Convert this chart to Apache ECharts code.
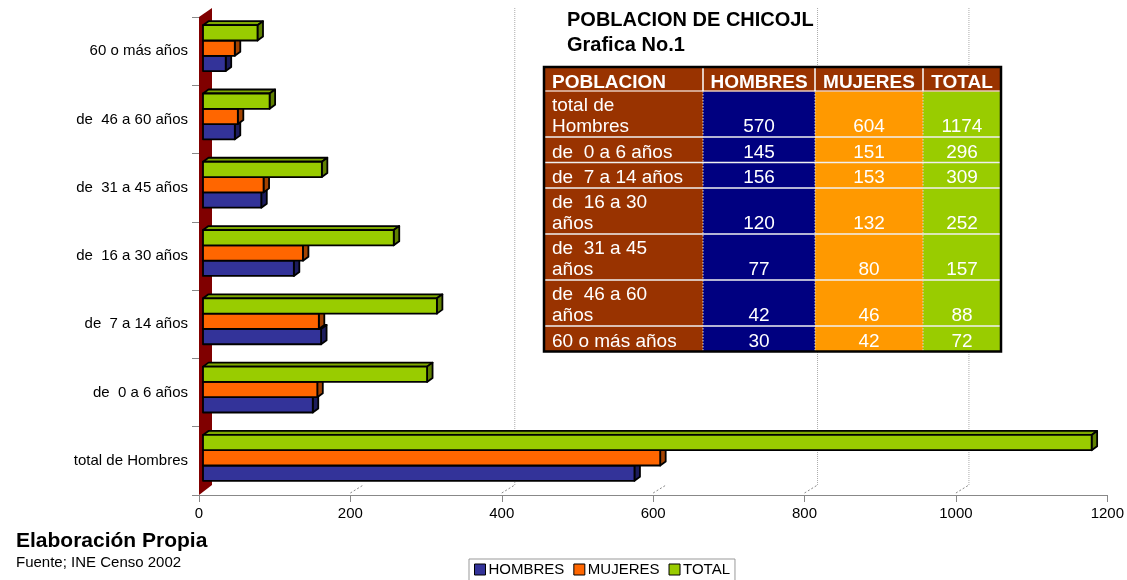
<!DOCTYPE html>
<html>
<head>
<meta charset="utf-8">
<script src="https://cdn.jsdelivr.net/npm/echarts@6/dist/echarts.min.js"></script>
<style>html,body{margin:0;padding:0;background:#fff;}#c{width:1127px;height:580px;}</style>
</head>
<body>
<div id="c"></div>
<script>
// ---- data ----
var categories = ['total de Hombres', 'de  0 a 6 años', 'de  7 a 14 años', 'de  16 a 30 años', 'de  31 a 45 años', 'de  46 a 60 años', '60 o más años'];
var hombres = [570, 145, 156, 120, 77, 42, 30];
var mujeres = [604, 151, 153, 132, 80, 46, 42];
var total = [1174, 296, 309, 252, 157, 88, 72];
var seriesNames = ['HOMBRES', 'MUJERES', 'TOTAL'];
var xTickValues = [200, 400, 600, 800, 1000];
var backGridValues = [400, 800, 1000];
var tableHeader = ['POBLACION', 'HOMBRES', 'MUJERES', 'TOTAL'];
var tableRowLabels = ['total de\nHombres', 'de  0 a 6 años', 'de  7 a 14 años', 'de  16 a 30\naños', 'de  31 a 45\naños', 'de  46 a 60\naños', '60 o más años'];

// ---- styles ----
var FONT = "'Liberation Sans', Arial, sans-serif";
var barColors = ['#333399', '#FF6600', '#99CC00'];
var topColors = ['#26267a', '#cc5200', '#7ea800'];
var sideColors = ['#1c1c5c', '#a34200', '#5f8000'];
var cellColors = ['#993300', '#000080', '#FF9900', '#99CC00'];

var chart = echarts.init(document.getElementById('c'), null, {renderer: 'canvas'});

function barRender(si) {
  return function (params, api) {
    var v = api.value(0), c = api.value(1);
    var p0 = api.coord([0, c]), p1 = api.coord([v, c]);
    var band = api.size([0, 1])[1];
    var bh = band * 0.224;
    var cy = p0[1] - 3;
    var bottom = cy + 1.5 * bh - si * bh;
    var top = bottom - bh;
    var x0 = p0[0] + 4, x1 = p1[0] + 4;
    var dx = 5.5, dy = -4;
    var st = {stroke: '#000', lineWidth: 1.8, lineJoin: 'round'};
    return {
      type: 'group',
      children: [
        {type: 'polygon', shape: {points: [[x0, top], [x0 + dx, top + dy], [x1 + dx, top + dy], [x1, top]]},
          style: Object.assign({fill: topColors[si]}, st)},
        {type: 'polygon', shape: {points: [[x1, top], [x1 + dx, top + dy], [x1 + dx, bottom + dy], [x1, bottom]]},
          style: Object.assign({fill: sideColors[si]}, st)},
        {type: 'rect', shape: {x: x0, y: top, width: x1 - x0, height: bh},
          style: Object.assign({fill: barColors[si]}, st)}
      ]
    };
  };
}

var seriesData = [hombres, mujeres, total];
var series = [];

// back wall gridlines
series.push({
  type: 'custom', name: 'backgrid', xAxisIndex: 0, yAxisIndex: 0, z: 0, silent: true,
  data: backGridValues.map(function (v) { return [v, 0]; }),
  renderItem: function (params, api) {
    var cs = params.coordSys;
    var px = api.coord([api.value(0), 0])[0] + 13;
    return {type: 'line', shape: {x1: px, y1: cs.y - 9, x2: px, y2: cs.y + cs.height - 10},
      style: {stroke: '#aaa', lineWidth: 1, lineDash: [1, 1]}};
  }
});
// left wall
series.push({
  type: 'custom', name: 'wall', xAxisIndex: 0, yAxisIndex: 0, z: 1, silent: true,
  data: [[0, 0]],
  renderItem: function (params, api) {
    var cs = params.coordSys;
    var x = cs.x, y = cs.y, h = cs.height;
    return {type: 'polygon', shape: {points: [[x, y + h], [x + 13, y + h - 10], [x + 13, y - 9], [x, y]]},
      style: {fill: '#800000', stroke: 'none'}};
  }
});
// floor diagonals
series.push({
  type: 'custom', name: 'floor', xAxisIndex: 0, yAxisIndex: 0, z: 1, silent: true,
  data: xTickValues.map(function (v) { return [v, 0]; }),
  renderItem: function (params, api) {
    var cs = params.coordSys;
    var px = api.coord([api.value(0), 0])[0];
    var yb = cs.y + cs.height;
    return {type: 'line', shape: {x1: px, y1: yb - 2, x2: px + 13, y2: yb - 10},
      style: {stroke: '#888', lineWidth: 1, lineDash: [2, 2]}};
  }
});
seriesData.forEach(function (arr, si) {
  series.push({
    type: 'custom', name: seriesNames[si], xAxisIndex: 0, yAxisIndex: 0, z: 3 + si,
    itemStyle: {color: barColors[si], borderColor: '#000', borderWidth: 1},
    encode: {x: 0, y: 1},
    data: arr.map(function (v, i) { return [v, i]; }),
    renderItem: barRender(si)
  });
});

// ---- table built from the arrays ----
var colW = [159, 112, 108, 78];
var tX = 544, tY = 67, headH = 24;
var rowHs = tableRowLabels.map(function (l) { return l.indexOf('\n') >= 0 ? 46 : 25.5; });
var graphics = [];
var colX = [tX];
colW.forEach(function (w, i) { colX.push(colX[i] + w); });
var rowY = [tY, tY + headH];
rowHs.forEach(function (h, i) { rowY.push(rowY[i + 1] + h); });
var tW = colX[4] - tX, tH = rowY[rowY.length - 1] - tY;
graphics.push({type: 'rect', shape: {x: tX, y: tY, width: tW, height: headH}, style: {fill: cellColors[0]}, z: 100});
for (var ci = 0; ci < 4; ci++) {
  graphics.push({type: 'rect', shape: {x: colX[ci], y: rowY[1], width: colW[ci], height: tH - headH}, style: {fill: cellColors[ci]}, z: 100});
}
for (var ri = 1; ri < rowY.length - 1; ri++) {
  graphics.push({type: 'line', shape: {x1: tX, y1: rowY[ri], x2: tX + tW, y2: rowY[ri]}, style: {stroke: ri === 1 ? '#e8c8b8' : '#f0f0f0', lineWidth: 1.5}, z: 101});
}
for (var vi = 1; vi < 4; vi++) {
  graphics.push({type: 'line', shape: {x1: colX[vi], y1: tY, x2: colX[vi], y2: rowY[1]}, style: {stroke: '#fff', lineWidth: 1.5}, z: 101});
  graphics.push({type: 'line', shape: {x1: colX[vi], y1: rowY[1], x2: colX[vi], y2: tY + tH}, style: {stroke: '#ddd', lineWidth: 1, lineDash: [1.5, 1.5]}, z: 101});
}
graphics.push({type: 'rect', shape: {x: tX, y: tY, width: tW, height: tH}, style: {fill: 'none', stroke: '#000', lineWidth: 2.5}, z: 102});
tableHeader.forEach(function (t, i) {
  graphics.push({type: 'text', z: 103, style: {
    text: t, x: i === 0 ? tX + 8 : colX[i] + colW[i] / 2, y: rowY[1] + 1,
    align: i === 0 ? 'left' : 'center', verticalAlign: 'bottom',
    fill: '#fff', font: 'bold 19px ' + FONT}});
});
tableRowLabels.forEach(function (lab, r) {
  var yb = rowY[r + 2] + 0.5;
  graphics.push({type: 'text', z: 103, style: {text: lab, x: tX + 8, y: yb, align: 'left', verticalAlign: 'bottom',
    fill: '#fff', font: '19px ' + FONT, lineHeight: 21}});
  seriesData.forEach(function (arr, si) {
    graphics.push({type: 'text', z: 103, style: {text: String(arr[r]), x: colX[si + 1] + colW[si + 1] / 2, y: yb,
      align: 'center', verticalAlign: 'bottom', fill: '#fff', font: '19px ' + FONT, lineHeight: 21}});
  });
});

var option = {
  animation: false,
  backgroundColor: '#fff',
  textStyle: {fontFamily: FONT},
  title: [
    {text: 'POBLACION DE CHICOJL\nGrafica No.1', left: 567, top: 8, padding: 0,
      textStyle: {fontSize: 20, fontWeight: 'bold', color: '#000', lineHeight: 25, fontFamily: FONT}},
    {text: 'Elaboración Propia', left: 16, top: 530, padding: 0,
      textStyle: {fontSize: 21, fontWeight: 'bold', color: '#000', lineHeight: 22, fontFamily: FONT}},
    {text: 'Fuente; INE Censo 2002', left: 16, top: 555, padding: 0,
      textStyle: {fontSize: 15, fontWeight: 'normal', color: '#000', lineHeight: 16, fontFamily: FONT}}
  ],
  legend: {
    data: seriesNames, left: 469, top: 559, orient: 'horizontal',
    icon: 'rect', itemWidth: 11, itemHeight: 11, itemGap: 9,
    padding: [3, 5, 4, 5], borderColor: '#999', borderWidth: 1,
    itemStyle: {borderColor: '#000', borderWidth: 1},
    textStyle: {fontSize: 15, color: '#000', fontFamily: FONT, padding: [0, 0, 0, -2]}
  },
  grid: [
    {left: 199, top: 17, width: 910, height: 478, containLabel: false}
  ],
  xAxis: [
    {type: 'value', gridIndex: 0, min: 0, max: 1200, interval: 200,
      axisLine: {show: true, lineStyle: {color: '#888', width: 1}},
      axisTick: {show: true, length: 7, lineStyle: {color: '#888'}},
      splitLine: {show: false},
      axisLabel: {fontSize: 15, color: '#000', margin: 11, fontFamily: FONT,
        formatter: function (v) { return String(v); }}}
  ],
  yAxis: [
    {type: 'category', gridIndex: 0, data: categories,
      axisLine: {show: false},
      axisTick: {show: true, length: 7, lineStyle: {color: '#888'}},
      axisLabel: {fontSize: 15, color: '#000', margin: 11, fontFamily: FONT}}
  ],
  series: series,
  graphic: graphics
};
chart.setOption(option);
</script>
</body>
</html>
